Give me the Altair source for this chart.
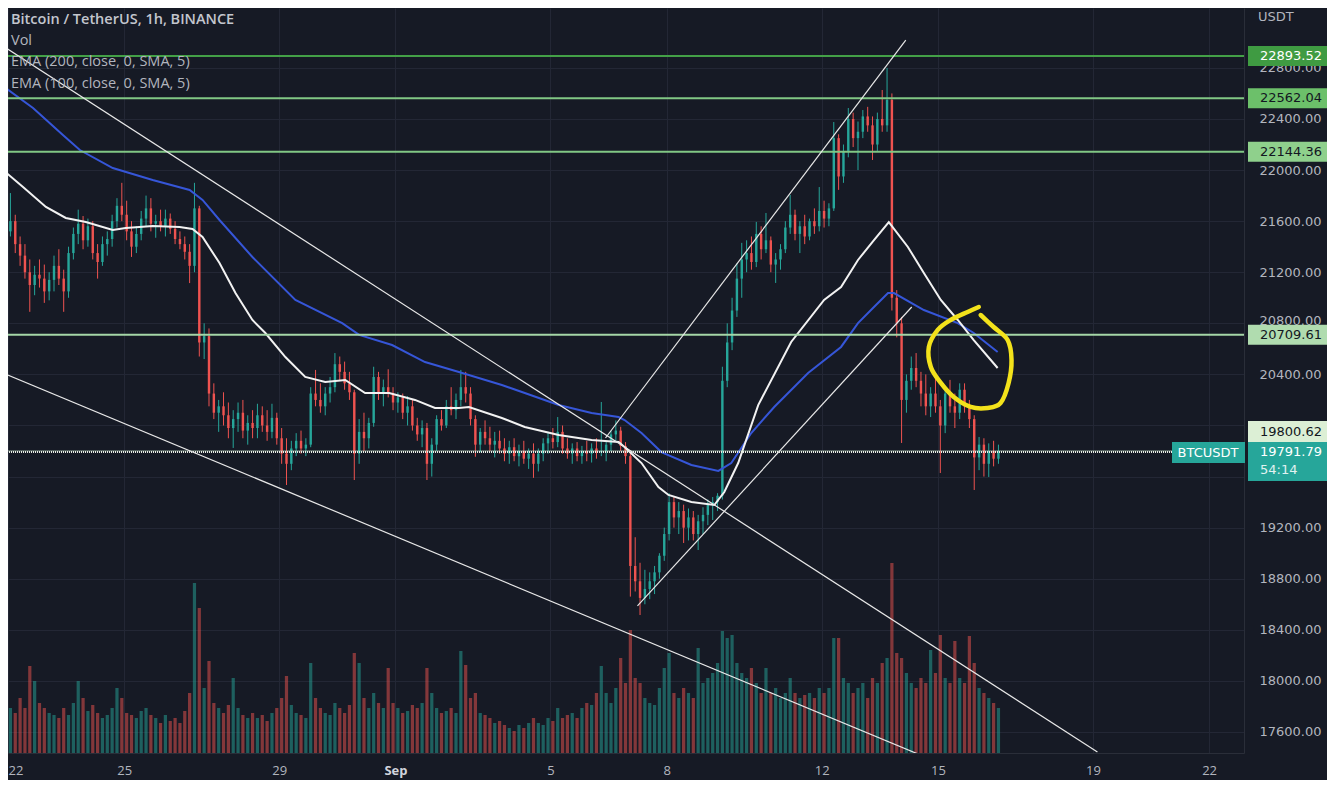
import altair as alt
import pandas as pd

BG = "#161a25"
GRID = "#232735"
AXIS_TXT = "#b2b5be"
UP = "#26a69a"
DOWN = "#ef5350"
FONT_AX = "DejaVu Sans"
FONT_TXT = "Open Sans"

W, H = 1236, 745
T_MIN, T_MAX = 0.0, 765.6          # hours since 22 Aug 00:00
P_MIN, P_MAX = 17435.5, 23269.0

# ---------------- data (3-hour candles) ----------------
first_open = 21450
closes = [
    21520, 21600, 21420, 21330, 21200, 21100, 21180, 21150, 21050, 21140,
    21250, 21150, 21050, 21350, 21500, 21580, 21450, 21560, 21350, 21280,
    21420, 21460, 21600, 21720, 21650, 21520, 21400, 21500, 21620, 21700,
    21580, 21600, 21560, 21620, 21540, 21460, 21420, 21360, 21250, 21700,
    20650, 20700, 20250, 20100, 20150, 20080, 19980, 20050, 20100, 19960,
    20020, 19980, 20080, 20000, 19950, 20060, 19900, 19780, 19700, 19820,
    19880, 19820, 19850, 20250, 20200, 20150, 20250, 20300, 20480, 20420,
    20330, 20260, 19780, 19950, 19900, 20020, 20380, 20260, 20300, 20250,
    20180, 20220, 20100, 20150, 20000, 19930, 19980, 19700, 19850, 20050,
    20000, 20150, 20120, 20200, 20300, 20250, 20050, 19850, 19950, 19900,
    19850, 19880, 19820, 19780, 19830, 19760, 19800, 19740, 19780, 19700,
    19780, 19860, 19900, 19870, 19950, 19820, 19780, 19820, 19760, 19800,
    19780, 19820, 19790, 19800, 19850, 19930, 19960, 19840, 19760, 18900,
    18780, 18650, 18720, 18780, 18850, 18980, 19150, 19400, 19280, 19330,
    19200, 19280, 19150, 19250, 19300, 19380, 19400, 19450, 20350, 20650,
    20900, 21150, 21300, 21350, 21280, 21500, 21380, 21450, 21260, 21300,
    21380, 21550, 21650, 21500, 21560, 21480, 21600, 21560, 21680, 21620,
    21700, 22250, 21950, 22150, 22400, 22250, 22300, 22420, 22350, 22200,
    22400, 22350, 22550, 21000, 20800, 20200, 20350, 20450, 20350, 20250,
    20150, 20250, 20150, 20000, 20250, 20150, 20100, 20280, 20150, 20050,
    19750, 19850, 19700, 19800, 19740, 19791.79,
]
highs = [
    21560, 21820, 21650, 21480, 21420, 21300, 21250, 21300, 21260, 21200,
    21330, 21380, 21220, 21400, 21550, 21690, 21640, 21620, 21600, 21420,
    21480, 21520, 21650, 21780, 21900, 21760, 21600, 21560, 21680, 21800,
    21780, 21650, 21690, 21690, 21660, 21600, 21520, 21480, 21420, 21900,
    21720, 20800, 20760, 20330, 20200, 20260, 20180, 20120, 20180, 20200,
    20080, 20120, 20170, 20150, 20120, 20170, 20100, 19980, 19900, 19880,
    19940, 19960, 19900, 20300, 20435, 20330, 20300, 20380, 20567, 20540,
    20500, 20420, 20280, 20050, 20100, 20060, 20460, 20420, 20360, 20440,
    20300, 20260, 20250, 20230, 20200, 20060, 20040, 20020, 19900, 20080,
    20120, 20200, 20300, 20250, 20435, 20420, 20300, 20080, 19980, 20040,
    19990, 19950, 19960, 19900, 19880, 19900, 19850, 19880, 19820, 19860,
    19820, 19900, 19950, 19980, 20066, 20000, 19900, 19860, 19870, 19840,
    19880, 19860, 19900, 20184, 19880, 19960, 20040, 19990, 19870, 19790,
    19125, 18925, 18870, 18850, 18900, 19000, 19200, 19470, 19440, 19400,
    19380, 19350, 19330, 19300, 19360, 19420, 19440, 19470, 20460, 20800,
    21000, 21270, 21430, 21450, 21480, 21594, 21560, 21664, 21480, 21350,
    21420, 21600, 21805, 21690, 21600, 21650, 21620, 21700, 21867, 21760,
    21740, 22376, 22280, 22200, 22486, 22450, 22380, 22470, 22495, 22420,
    22450, 22627, 22800, 22600, 21060, 20850, 20400, 20540, 20567, 20420,
    20400, 20300, 20380, 20200, 20300, 20357, 20250, 20330, 20330, 20200,
    20080, 19910, 19900, 19860, 19880, 19850,
]
lows = [
    21380, 21480, 21350, 21250, 21150, 20890, 21020, 21080, 20960, 20980,
    21050, 21100, 20890, 21000, 21300, 21420, 21380, 21400, 21300, 21150,
    21250, 21330, 21400, 21550, 21600, 21450, 21320, 21350, 21450, 21560,
    21520, 21470, 21520, 21480, 21500, 21420, 21380, 21300, 21115, 21200,
    20540, 20520, 20150, 20050, 19950, 20000, 19900, 19824, 19950, 19900,
    19850, 19900, 19900, 19950, 19880, 19900, 19850, 19700, 19534, 19650,
    19760, 19780, 19760, 19830, 20150, 20100, 20080, 20180, 20260, 20350,
    20280, 20200, 19573, 19700, 19800, 19820, 19990, 20200, 20150, 20220,
    20120, 20100, 20050, 20000, 19960, 19880, 19830, 19573, 19600, 19800,
    19960, 19980, 20080, 20050, 20150, 20180, 20000, 19755, 19790, 19850,
    19800, 19750, 19780, 19720, 19700, 19720, 19680, 19700, 19660, 19590,
    19640, 19720, 19780, 19820, 19830, 19780, 19740, 19700, 19720, 19700,
    19720, 19710, 19740, 19760, 19720, 19800, 19880, 19800, 19700, 18660,
    18700, 18516, 18600, 18640, 18680, 18800, 18940, 19100, 19200, 19150,
    19080, 19100, 19100, 19025, 19150, 19220, 19260, 19330, 19420, 20300,
    20590, 20850, 21000, 21200, 21220, 21240, 21300, 21350, 21200, 21116,
    21220, 21350, 21500, 21450, 21350, 21420, 21450, 21500, 21520, 21550,
    21560, 21680, 21845, 21900, 22100, 22180, 22000, 22250, 22300, 22079,
    22150, 22300, 22300, 20900, 20690, 19863, 20100, 20280, 20300, 20150,
    20080, 20066, 20100, 19628, 19940, 20100, 19980, 20050, 20100, 19980,
    19495, 19650, 19600, 19597, 19680, 19700,
]
volumes = [
    35, 45, 40, 55, 45, 87, 72, 50, 45, 40,
    38, 35, 45, 38, 50, 72, 55, 42, 48, 40,
    35, 38, 45, 65, 55, 40, 38, 35, 42, 45,
    38, 35, 30, 38, 32, 35, 30, 42, 60, 170,
    145, 65, 92, 50, 45, 40, 48, 75, 45, 38,
    35, 40, 35, 38, 32, 40, 45, 55, 77, 48,
    40, 38, 35, 90, 55, 45, 40, 38, 50, 45,
    40, 48, 100, 90, 55, 45, 60, 50, 45, 85,
    50, 45, 40, 42, 48, 45, 50, 85, 60, 45,
    40, 42, 45, 40, 102, 88, 55, 60, 40, 38,
    35, 30, 32, 28, 25, 22, 28, 25, 30, 35,
    30, 28, 35, 32, 45, 35, 38, 40, 35, 45,
    50, 48, 60, 87, 60, 50, 65, 95, 70, 123,
    75, 70, 55, 50, 48, 65, 85, 100, 60, 55,
    65, 60, 55, 105, 70, 75, 80, 90, 122, 115,
    118, 90, 80, 75, 85, 70, 60, 85, 60, 65,
    55, 60, 75, 60, 55, 58, 60, 55, 65, 60,
    65, 115, 115, 75, 70, 60, 65, 70, 55, 75,
    70, 90, 95, 190, 100, 95, 80, 70, 65, 75,
    70, 103, 80, 118, 75, 70, 112, 75, 70, 117,
    90, 65, 60, 55, 50, 45,
]

ema200_t = [-3.1, 15.5, 34.0, 44.5, 64.9, 89.6, 112.5, 120.5, 131.0, 151.4, 178.0, 207.0, 217.5,
            237.9, 258.3, 279.3, 305.9, 320.1, 341.1, 361.5, 378.2, 381.9, 392.4, 404.7, 423.3,
            440.0, 448.0, 460.4, 474.6, 495.6, 516.0, 526.5, 536.4, 545.1, 548.8, 567.3, 588.3,
            598.2, 613.0]
ema200_p = [22658, 22486, 22275, 22157, 22016, 21922, 21844, 21766, 21609, 21319, 20983, 20802, 20709,
            20630, 20497, 20419, 20317, 20254, 20160, 20098, 20066, 20043, 19941, 19792, 19691,
            19644, 19706, 19941, 20145, 20411, 20615, 20802, 20928, 21037, 21037, 20904, 20802,
            20724, 20575]
ema100_t = [-3.1, 9.3, 23.5, 35.8, 48.2, 64.9, 72.9, 89.6, 106.3, 114.3, 120.5, 131.0, 140.9, 151.4,
            159.4, 171.8, 184.1, 196.5, 208.9, 221.2, 236.1, 252.1, 264.5, 279.3, 285.5, 305.9,
            320.1, 341.1, 361.5, 378.2, 381.9, 392.4, 402.9, 409.1, 423.3, 437.5, 443.7, 452.3,
            464.7, 485.1, 505.5, 516.0, 526.5, 536.4, 545.6, 557.4, 567.3, 577.8, 588.3, 598.2, 613.0]
ema100_p = [22000, 21867, 21711, 21625, 21593, 21531, 21546, 21562, 21554, 21538, 21476, 21272, 21037,
            20826, 20724, 20536, 20380, 20341, 20356, 20254, 20254, 20200, 20137, 20137, 20145,
            20059, 19988, 19926, 19886, 19871, 19832, 19706, 19518, 19456, 19401, 19377, 19479,
            19706, 20160, 20654, 20983, 21084, 21296, 21452, 21593, 21398, 21194, 20983, 20826,
            20669, 20450]

trend_id = ["a", "a", "b", "b", "c", "c", "d", "d"]
trend_t = [-3.1, 674.8, -3.1, 563.6, 370.1, 556.1, 389.9, 559.8]
trend_p = [22971, 17443, 20411, 17428, 19902, 23018, 18587, 20928]

circle_t = [602.5, 610.5, 619.2, 621.6, 619.8, 614.8, 606.8, 596.3, 585.8, 577.8, 571.6, 570.4,
            575.9, 583.9, 594.4, 601.3]
circle_p = [20865, 20771, 20669, 20513, 20333, 20176, 20137, 20145, 20223, 20333, 20458, 20615,
            20748, 20826, 20889, 20928]

level_prices = [22893.52, 22562.04, 22144.36, 20709.61]
level_line_colors = ["#43a047", "#81c784", "#81c784", "#a5d6a7"]
level_box_colors = ["#3f9b42", "#6cc06a", "#8fd08c", "#b0dcaf"]
level_text_colors = ["#ffffff", "#131722", "#131722", "#131722"]
alert_price = 19800.62
last_price = 19791.79
countdown = "54:14"

x_tick_hours = [0, 72, 168, 240, 336, 408, 504, 576, 672, 744]
y_ticks = list(range(17600, 22801, 400))
y_hidden = [20000, 19600]          # labels covered by the price tags in the reference

# ---------------- tables ----------------
n = len(closes)
opens = [first_open] + closes[:-1]
candles = pd.DataFrame({
    "t": [-3 + 3 * i for i in range(n)],
    "open": opens, "high": highs, "low": lows, "close": closes, "volume": volumes,
})
candles["tc"] = candles["t"] + 1.5
candles["tb0"] = candles["t"] + 0.75
candles["tb1"] = candles["t"] + 2.25
candles["tv0"] = candles["t"] + 0.5
candles["tv1"] = candles["t"] + 2.5
candles["bot"] = 0
candles["dir"] = ["up" if c >= o else "down" for o, c in zip(opens, closes)]

ema200 = pd.DataFrame({"t": ema200_t, "p": ema200_p, "i": range(len(ema200_t))})
ema100 = pd.DataFrame({"t": ema100_t, "p": ema100_p, "i": range(len(ema100_t))})
trends = pd.DataFrame({"id": trend_id, "t": trend_t, "p": trend_p})
circle = pd.DataFrame({"t": circle_t, "p": circle_p, "i": range(len(circle_t))})
levels = pd.DataFrame({
    "p": level_prices, "lc": level_line_colors, "bc": level_box_colors, "tc": level_text_colors,
    "label": [f"{v:.2f}" for v in level_prices],
})
alert = pd.DataFrame({"p": [alert_price], "label": [f"{alert_price:.2f}"]})
last = pd.DataFrame({"p": [last_price], "label": [f"{last_price:.2f}"], "cd": [countdown],
                     "sym": ["BTCUSDT"]})

# ---------------- scales / axes ----------------
xs = alt.Scale(domain=[T_MIN, T_MAX], nice=False, zero=False)
ys = alt.Scale(domain=[P_MIN, P_MAX], nice=False, zero=False)
vs = alt.Scale(domain=[0, 745], nice=False, zero=True)
dircolor = alt.Color("dir:N", scale=alt.Scale(domain=["up", "down"], range=[UP, DOWN]), legend=None)

x_axis = alt.Axis(
    values=x_tick_hours,
    labelExpr="datum.value == 240 ? 'Sep' : (datum.value > 240 ? toString(datum.value/24 - 9) : toString(datum.value/24 + 22))",
    title=None, grid=True, gridColor=GRID, gridWidth=1, domainColor="#2a2e39",
    ticks=False, tickSize=0, labelPadding=11, labelFont=FONT_TXT, labelFontSize=13,
    labelColor={"condition": {"test": "datum.value == 240", "value": "#d1d4dc"}, "value": AXIS_TXT},
    labelFontWeight={"condition": {"test": "datum.value == 240", "value": "bold"}, "value": "normal"},
    labelFlush=True, labelOverlap=False, labelBound=False,
)
hidden_test = " || ".join(f"datum.value == {v}" for v in y_hidden)
y_axis = alt.Axis(
    orient="right", values=y_ticks, title=None, grid=True, gridColor=GRID,
    labelExpr=f"({hidden_test}) ? '' : format(datum.value, '.2f')",
    gridWidth=1, domainColor="#2a2e39", ticks=False, tickSize=0, labelPadding=15,
    labelOffset={"condition": {"test": "datum.value == 20800", "value": -3}, "value": 0},
    labelFont=FONT_AX, labelFontSize=13, labelColor=AXIS_TXT, labelOverlap=False,
)

X = lambda f: alt.X(f"{f}:Q", scale=xs, axis=x_axis)
Y = lambda f: alt.Y(f"{f}:Q", scale=ys, axis=y_axis)

# ---------------- layers ----------------
vol = alt.Chart(candles).mark_bar(opacity=0.5, clip=True).encode(
    x=X("tv0"), x2="tv1",
    y=alt.Y("volume:Q", scale=vs, axis=None), y2="bot", color=dircolor,
)

wick = alt.Chart(candles).mark_rule(strokeWidth=1, clip=True).encode(
    x=X("tc"), y=Y("low"), y2="high", color=dircolor)
body = alt.Chart(candles).mark_bar(clip=True).encode(
    x=X("tb0"), x2="tb1", y=Y("open"), y2="close", color=dircolor)

level_lines = alt.Chart(levels).mark_rule(strokeWidth=2).encode(
    y=Y("p"), color=alt.Color("lc:N", scale=None))
alert_line = alt.Chart(alert).mark_rule(strokeWidth=1, color="#c8e6c9", opacity=0.6).encode(y=Y("p"))
last_line = alt.Chart(last).mark_rule(strokeWidth=2, strokeDash=[1, 1], color="#e9eee6").encode(y=Y("p"))

ema200_line = alt.Chart(ema200).mark_line(strokeWidth=2, color="#3656d8", clip=True).encode(
    x=X("t"), y=Y("p"), order="i:Q")
ema100_line = alt.Chart(ema100).mark_line(strokeWidth=2, color="#f2f2f2", clip=True).encode(
    x=X("t"), y=Y("p"), order="i:Q")
trend_lines = alt.Chart(trends).mark_line(strokeWidth=1.2, color="#e8e8e8", clip=True).encode(
    x=X("t"), y=Y("p"), detail="id:N")
circle_line = alt.Chart(circle).mark_line(
    strokeWidth=4.5, color="#f3e21b", interpolate="cardinal", strokeCap="round", clip=True
).encode(x=X("t"), y=Y("p"), order="i:Q")

level_boxes = alt.Chart(levels).mark_rect(yOffset=-10, y2Offset=10).encode(
    x=alt.value(1240), x2=alt.value(1319), y=Y("p"), y2="p", color=alt.Color("bc:N", scale=None))
level_texts = alt.Chart(levels).mark_text(align="left", baseline="middle", font=FONT_AX, fontSize=13).encode(
    x=alt.value(1252), y=Y("p"), text="label:N", color=alt.Color("tc:N", scale=None))

alert_box = alt.Chart(alert).mark_rect(yOffset=-30, y2Offset=-9, color="#dcefd5").encode(
    x=alt.value(1240), x2=alt.value(1319), y=Y("p"), y2="p")
alert_text = alt.Chart(alert).mark_text(align="left", baseline="middle", font=FONT_AX, fontSize=13,
                                        dy=-19, color="#131722").encode(
    x=alt.value(1252), y=Y("p"), text="label:N")

last_box = alt.Chart(last).mark_rect(yOffset=-10, y2Offset=29, color=UP).encode(
    x=alt.value(1240), x2=alt.value(1319), y=Y("p"), y2="p")
last_text = alt.Chart(last).mark_text(align="left", baseline="middle", font=FONT_AX, fontSize=13,
                                      color="#ffffff").encode(x=alt.value(1252), y=Y("p"), text="label:N")
cd_text = alt.Chart(last).mark_text(align="left", baseline="middle", font=FONT_AX, fontSize=13,
                                    dy=18, color="#e0f2f1").encode(x=alt.value(1252), y=Y("p"), text="cd:N")
sym_box = alt.Chart(last).mark_rect(yOffset=-10, y2Offset=11, color=UP).encode(
    x=alt.value(1164), x2=alt.value(1237), y=Y("p"), y2="p")
sym_text = alt.Chart(last).mark_text(align="center", baseline="middle", font=FONT_AX, fontSize=13,
                                     dy=1, color="#ffffff").encode(x=alt.value(1200), y=Y("p"), text="sym:N")

header_rows = ["Bitcoin / TetherUS, 1h, BINANCE", "Vol", "EMA (200, close, 0, SMA, 5)",
               "EMA (100, close, 0, SMA, 5)"]
header_y = [12, 33, 54, 76]
headers = []
for k, (s, yy) in enumerate(zip(header_rows, header_y)):
    headers.append(
        alt.Chart(pd.DataFrame({"s": [s]})).mark_text(
            align="left", baseline="middle", font=FONT_TXT, fontSize=14.5,
            fontWeight=600 if k == 0 else 400,
            color="#c3c6ce" if k == 0 else "#b2b5be",
        ).encode(text="s:N", x=alt.value(3), y=alt.value(yy))
    )
usdt = alt.Chart(pd.DataFrame({"s": ["USDT"]})).mark_text(
    align="left", baseline="middle", font=FONT_AX, fontSize=13, color=AXIS_TXT
).encode(text="s:N", x=alt.value(1250), y=alt.value(9))

price_layer = alt.layer(
    wick, body, ema200_line, ema100_line, level_lines, alert_line, last_line,
    trend_lines, circle_line, level_boxes, level_texts, alert_box, alert_text,
    last_box, last_text, cd_text, sym_box, sym_text, usdt, *headers,
)

chart = alt.layer(vol, price_layer).resolve_scale(y="independent").properties(
    width=W, height=H,
    autosize=alt.AutoSizeParams(type="none"),
    padding={"left": 0, "top": 0, "right": 83, "bottom": 27},
).configure(background=BG).configure_view(stroke=None, fill=BG)

chart.save("out.html", embed_options={"renderer": "svg", "actions": False})
